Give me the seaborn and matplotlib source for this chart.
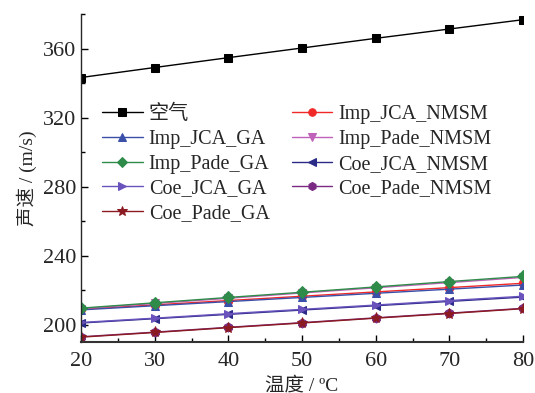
import matplotlib
matplotlib.use("Agg")
import matplotlib.pyplot as plt
import seaborn as sns
import pandas as pd
from matplotlib.ticker import MultipleLocator

temps = [20, 30, 40, 50, 60, 70, 80]
air = [343.2, 349.0, 354.7, 360.3, 365.9, 371.3, 376.7]
imp_jca_ga = [208.6, 211.0, 213.4, 215.8, 218.2, 220.6, 223.0]
imp_pade_ga = [209.6, 212.7, 215.8, 218.8, 221.9, 225.0, 228.0]
coe_jca_ga = [201.3, 203.8, 206.4, 208.9, 211.4, 214.0, 216.5]
coe_pade_ga = [192.8, 195.5, 198.3, 201.0, 203.8, 206.5, 209.3]
imp_jca_nmsm = [209.0, 211.5, 214.0, 216.5, 219.0, 221.5, 224.0]
imp_pade_nmsm = [209.3, 212.3, 215.3, 218.4, 221.4, 224.4, 227.4]
coe_jca_nmsm = [201.0, 203.5, 206.0, 208.5, 211.0, 213.5, 216.0]
coe_pade_nmsm = [193.0, 195.7, 198.5, 201.2, 204.0, 206.7, 209.5]

# drawing order (later on top)
series = [
    ("空气", air, "#000000", "s"),
    ("Imp_JCA_NMSM", imp_jca_nmsm, "#f02828", "o"),
    ("Imp_JCA_GA", imp_jca_ga, "#3a4fa8", "^"),
    ("Imp_Pade_NMSM", imp_pade_nmsm, "#c060b8", "v"),
    ("Imp_Pade_GA", imp_pade_ga, "#2e8b4a", "D"),
    ("Coe_JCA_NMSM", coe_jca_nmsm, "#2a2a88", "<"),
    ("Coe_JCA_GA", coe_jca_ga, "#6a52bd", ">"),
    ("Coe_Pade_NMSM", coe_pade_nmsm, "#7a2a82", "h"),
    ("Coe_Pade_GA", coe_pade_ga, "#8b1a22", "*"),
]
legend_order = ["空气", "Imp_JCA_GA", "Imp_Pade_GA", "Coe_JCA_GA", "Coe_Pade_GA",
                "Imp_JCA_NMSM", "Imp_Pade_NMSM", "Coe_JCA_NMSM", "Coe_Pade_NMSM"]

sns.set_style("ticks")
plt.rcParams['font.family'] = ['Liberation Serif', 'Noto Sans CJK SC']

fig = plt.figure(figsize=(5.35, 3.93), dpi=100)
ax = fig.add_axes([0.1514, 0.1298, 0.8262, 0.8346])

for name, vals, col, mk in series:
    df = pd.DataFrame({"T": temps, "v": vals})
    ms = {"*": 8, "D": 6, "h": 6.5, "o": 6}.get(mk, 6)
    sns.lineplot(data=df, x="T", y="v", ax=ax, color=col, marker=mk,
                 markersize=ms, markeredgecolor=col, linewidth=1.0,
                 label=name, clip_on=True)

ax.set_xlim(20, 80)
ax.set_ylim(190, 380)
ax.xaxis.set_major_locator(MultipleLocator(10))
ax.xaxis.set_minor_locator(MultipleLocator(5))
ax.set_yticks([200, 240, 280, 320, 360])
ax.yaxis.set_minor_locator(MultipleLocator(20))
ax.tick_params(which="both", direction="in", labelsize=16, color="black")
ax.tick_params(axis="x", which="both", pad=7)
ax.tick_params(which="major", length=5, width=1)
ax.tick_params(which="minor", length=3, width=1)
sns.despine(ax=ax)
ax.spines["left"].set_linewidth(1.0)
ax.spines["bottom"].set_linewidth(1.5)
ax.spines["bottom"].set_color("#333333")

ax.set_xlabel("温度 / ºC", fontsize=14, labelpad=4)
ax.set_ylabel("声速 / (m/s)", fontsize=14, labelpad=4)

handles, labels = ax.get_legend_handles_labels()
hmap = dict(zip(labels, handles))
ax.legend([hmap[l] for l in legend_order], legend_order,
          loc="upper left", bbox_to_anchor=(0.03, 0.747), ncol=2,
          frameon=False, fontsize=14.5, handlelength=2.0, handletextpad=0.3,
          columnspacing=1.1, labelspacing=0.28, borderaxespad=0, markerscale=0.9)

fig.savefig("out.png", dpi=100)
